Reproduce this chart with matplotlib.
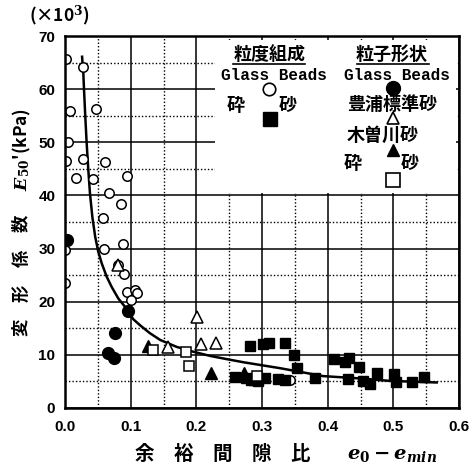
import matplotlib
matplotlib.use('Agg')
import matplotlib.pyplot as plt
from matplotlib.patches import Rectangle
from matplotlib.lines import Line2D

plt.rcParams['font.family'] = ['Noto Sans CJK JP', 'DejaVu Sans']
plt.rcParams['mathtext.fontset'] = 'custom'
plt.rcParams['mathtext.it'] = 'DejaVu Serif:italic:bold'
plt.rcParams['mathtext.rm'] = 'DejaVu Serif:bold'
plt.rcParams['mathtext.bf'] = 'DejaVu Serif:bold'

# ---- データ ----
# Glass Beads (粒度組成) 白丸
gb_x = [0.001, 0.027, 0.007, 0.047, 0.004, 0.001, 0.028, 0.061, 0.017, 0.043,
        0.095, 0.067, 0.086, 0.058, 0.000, 0.060, 0.089, 0.081, 0.090, 0.000,
        0.094, 0.107, 0.109, 0.101, 0.343]
gb_y = [65.6, 64.2, 55.9, 56.2, 50.0, 46.5, 46.8, 46.3, 43.2, 43.0,
        43.7, 40.5, 38.4, 35.7, 29.7, 29.9, 30.9, 26.9, 25.3, 23.5,
        21.9, 22.2, 21.6, 20.4, 5.3]
# 砕砂 (粒度組成) 黒四角
cs_x = [0.282, 0.301, 0.311, 0.335, 0.349, 0.353, 0.409, 0.259, 0.284, 0.294,
        0.305, 0.325, 0.335, 0.381, 0.426, 0.433, 0.448, 0.431, 0.454, 0.464,
        0.475, 0.501, 0.504, 0.529, 0.546, 0.276]
cs_y = [11.7, 12.0, 12.2, 12.3, 10.0, 7.5, 9.2, 5.8, 5.3, 5.1,
        5.7, 5.5, 5.3, 5.7, 8.7, 9.5, 7.7, 5.5, 5.1, 4.6,
        6.5, 6.4, 4.9, 4.8, 5.8, 5.6]
# Glass Beads (粒子形状) 黒丸
gbs_x = [0.0025, 0.096, 0.076, 0.065, 0.075]
gbs_y = [31.6, 18.3, 14.2, 10.4, 9.5]
# 豊浦標準砂 白三角
toyo_x = [0.081, 0.2005, 0.157, 0.207, 0.230]
toyo_y = [26.9, 17.1, 11.4, 12.0, 12.2]
# 木曽川砂 黒三角
kiso_x = [0.127, 0.222, 0.272, 0.290]
kiso_y = [11.7, 6.5, 6.5, 5.4]
# 砕砂 (粒子形状) 白四角
css_x = [0.134, 0.184, 0.189, 0.292]
css_y = [11.0, 10.5, 7.9, 6.0]
# 近似曲線 (図上の曲線をなぞった点)
curve_x = [0.026, 0.0279, 0.029, 0.0309, 0.033, 0.0355, 0.038, 0.0416, 0.046, 0.0507,
           0.056, 0.0635, 0.071, 0.0812, 0.091, 0.104, 0.114, 0.129, 0.145, 0.170,
           0.195, 0.221, 0.246, 0.272, 0.297, 0.327, 0.358, 0.393, 0.444, 0.495,
           0.566]
curve_y = [66.1, 63.0, 59.8, 54.8, 49.8, 44.8, 40.4, 36.0, 32.2, 29.4,
           27.2, 24.7, 22.8, 20.6, 19.1, 16.7, 15.6, 14.1, 12.8, 11.5,
           10.6, 9.8, 9.2, 8.6, 8.1, 7.5, 6.8, 6.0, 5.6, 5.1,
           4.8]

x_ticks = [0.0, 0.1, 0.2, 0.3, 0.4, 0.5, 0.6]
y_ticks = [0, 10, 20, 30, 40, 50, 60, 70]

JP = ['Noto Sans CJK JP', 'DejaVu Sans']

fig = plt.figure(figsize=(4.69, 4.66), dpi=100)
ax = fig.add_axes([0.1386, 0.1245, 0.8401, 0.7982])
ax.set_xlim(0, 0.6)
ax.set_ylim(0, 70)
ax.set_axisbelow(True)

ax.set_xticks(x_ticks)
ax.set_xticks([0.05, 0.15, 0.25, 0.35, 0.45, 0.55], minor=True)
ax.set_yticks(y_ticks)
ax.set_yticks([5, 15, 25, 35, 45, 55, 65], minor=True)
ax.set_xticklabels([f'{v:.1f}' for v in x_ticks])
ax.set_yticklabels([str(v) for v in y_ticks])
ax.grid(which='major', color='black', lw=1.1)
ax.grid(which='minor', color='black', lw=1.0, ls=(0, (1, 1.5)))
ax.tick_params(which='both', length=0)
ax.tick_params(axis='x', pad=9)
ax.tick_params(axis='y', pad=7)
for lab in ax.get_xticklabels() + ax.get_yticklabels():
    lab.set_fontfamily('Liberation Sans')
    lab.set_fontweight('bold')
    lab.set_fontsize(11)
for sp in ax.spines.values():
    sp.set_linewidth(1.8)
    sp.set_zorder(5)

# 凡例領域 (白抜き)
ax.add_patch(Rectangle((0.228, 40.4), 0.367, 28.8, facecolor='white',
                       edgecolor='none', zorder=1.5))

ax.plot(curve_x, curve_y, color='black', lw=1.8, zorder=3)
ax.plot(gb_x, gb_y, 'o', mfc='white', mec='black', mew=1.1, ms=6.8, zorder=4)
ax.plot(cs_x, cs_y, 's', color='black', ms=6.8, zorder=4)
ax.plot(gbs_x, gbs_y, 'o', color='black', ms=8.5, zorder=4)
ax.plot(toyo_x, toyo_y, '^', mfc='white', mec='black', mew=1.1, ms=8.5, zorder=4)
ax.plot(kiso_x, kiso_y, '^', color='black', ms=8.5, zorder=4)
ax.plot(css_x, css_y, 's', mfc='white', mec='black', mew=1.1, ms=7, zorder=4)

# 凡例
tr = ax.transAxes
jp = dict(transform=tr, ha='center', va='center', fontsize=13, fontweight='bold',
          family=JP, zorder=6)
en = dict(transform=tr, ha='center', va='center', fontsize=11.5, fontweight='bold',
          family='Liberation Mono', zorder=6)
ax.text(0.518, 0.951, '粒度組成', **jp)
ax.add_line(Line2D([0.426, 0.609], [0.926, 0.926], transform=tr, color='black', lw=1.2, zorder=6))
ax.text(0.530, 0.893, 'Glass Beads', **en)
ax.plot([0.518], [0.858], 'o', mfc='white', mec='black', mew=1.2, ms=9, transform=tr, zorder=6)
ax.text(0.434, 0.812, '砕', **jp)
ax.text(0.566, 0.812, '砂', **jp)
ax.plot([0.520], [0.777], 's', color='black', ms=9.5, transform=tr, zorder=6)

ax.text(0.830, 0.951, '粒子形状', **jp)
ax.add_line(Line2D([0.741, 0.924], [0.926, 0.926], transform=tr, color='black', lw=1.2, zorder=6))
ax.text(0.843, 0.893, 'Glass Beads', **en)
ax.plot([0.832], [0.860], 'o', color='black', ms=10, transform=tr, zorder=6)
ax.text(0.831, 0.817, '豊浦標準砂', **jp)
ax.plot([0.832], [0.780], '^', mfc='white', mec='black', mew=1.2, ms=9, transform=tr, zorder=6)
ax.text(0.807, 0.734, '木曽川砂', **jp)
ax.plot([0.832], [0.694], '^', color='black', ms=9, transform=tr, zorder=6)
ax.text(0.731, 0.656, '砕', **jp)
ax.text(0.876, 0.656, '砂', **jp)
ax.plot([0.832], [0.613], 's', mfc='white', mec='black', mew=1.2, ms=9.5, transform=tr, zorder=6)

# 軸ラベル
ax.set_ylabel("変　形　係　数　  $E_{50}$'(kPa)", fontsize=12.5, fontweight='bold',
              family=JP, labelpad=4)
fig.text(0.062, 0.966, '(×10$^3$)', fontsize=12.5, fontweight='bold',
         family=JP, ha='left', va='center')
fig.text(0.476, 0.024, '余　裕　間　隙　比', fontsize=14, fontweight='bold',
         family=JP, ha='center', va='center')
fig.text(0.835, 0.026, r'$e_0 - e_{min}$', fontsize=14,
         ha='center', va='center')

fig.savefig('out.png', dpi=100, facecolor='white')
